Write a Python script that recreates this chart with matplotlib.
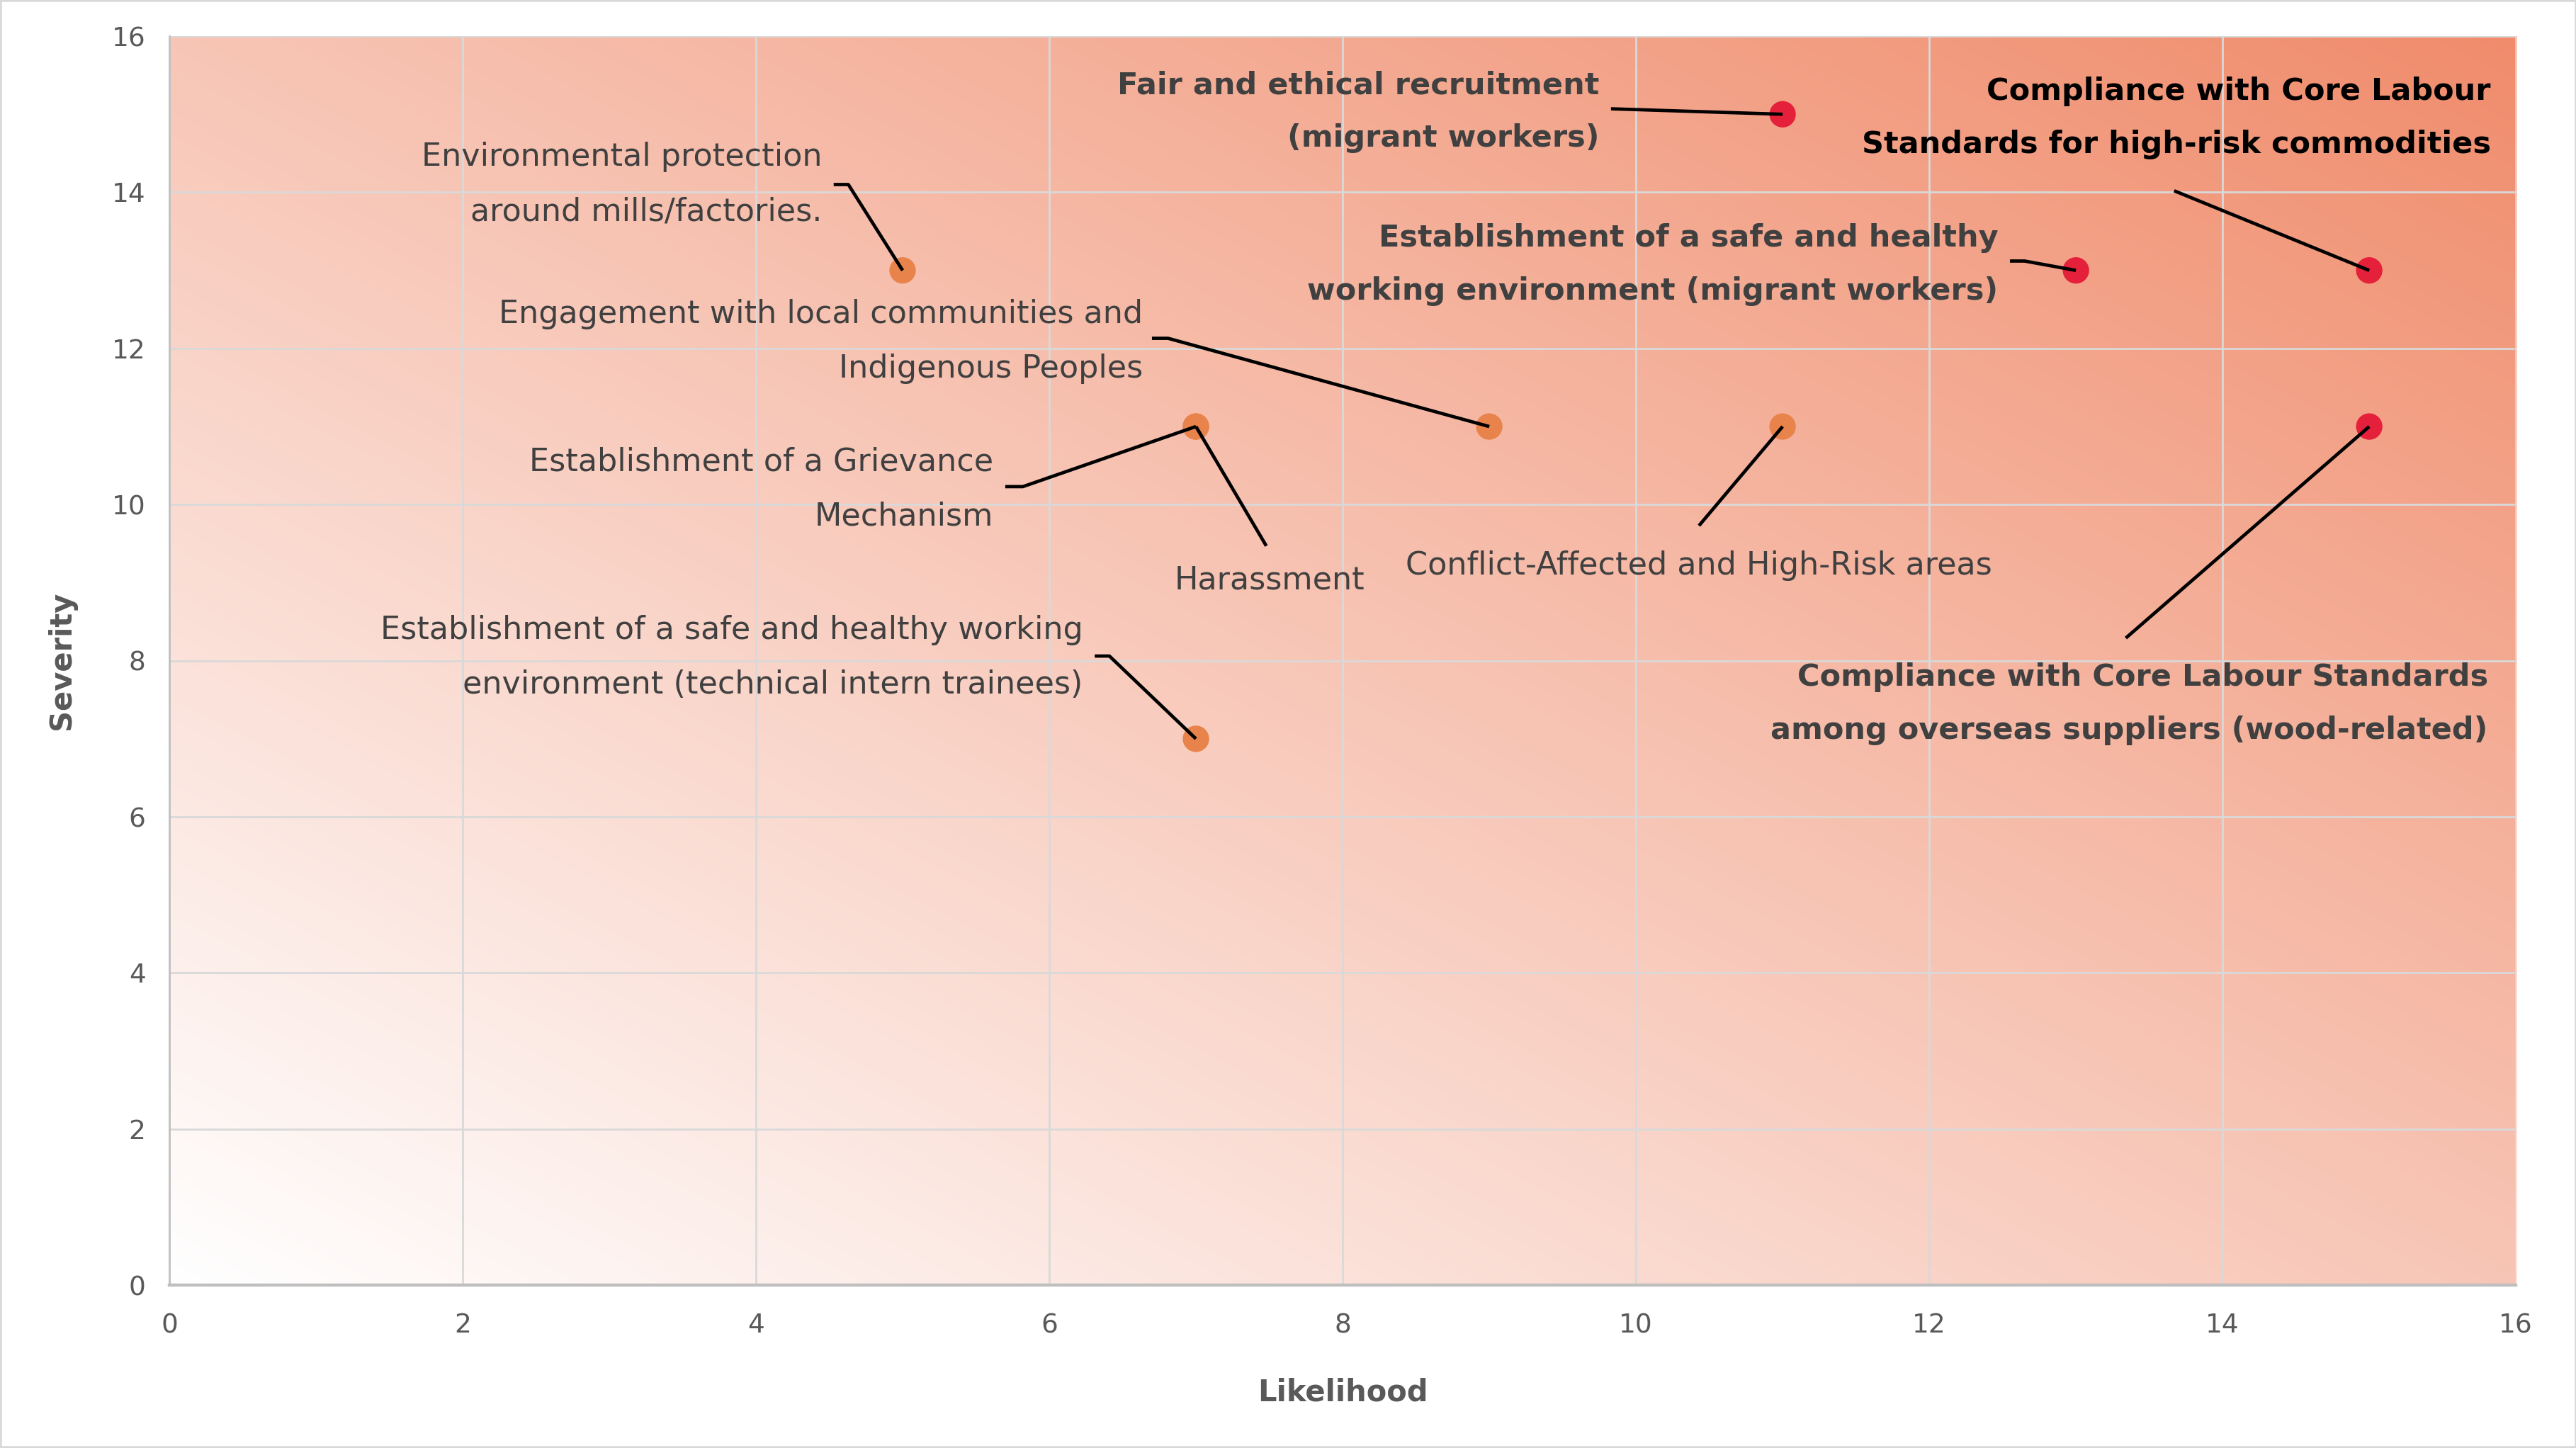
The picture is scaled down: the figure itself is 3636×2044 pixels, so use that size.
import numpy as np
import matplotlib
matplotlib.use("Agg")
import matplotlib.pyplot as plt
from matplotlib.patches import Rectangle

plt.rcParams['font.family'] = ['DejaVu Sans']

# ---- data ----
risk_labels = [
    "Environmental protection\naround mills/factories.",
    "Engagement with local communities and\nIndigenous Peoples",
    "Establishment of a Grievance\nMechanism",
    "Harassment",
    "Establishment of a safe and healthy working\nenvironment (technical intern trainees)",
    "Conflict-Affected and High-Risk areas",
    "Fair and ethical recruitment\n(migrant workers)",
    "Establishment of a safe and healthy\nworking environment (migrant workers)",
    "Compliance with Core Labour\nStandards for high-risk commodities",
    "Compliance with Core Labour Standards\namong overseas suppliers (wood-related)",
]
likelihood = [5, 9, 7, 7, 7, 11, 11, 13, 15, 15]
severity = [13, 11, 11, 11, 7, 11, 15, 13, 13, 11]
high_priority = [False, False, False, False, False, False, True, True, True, True]

x_ticks = [0, 2, 4, 6, 8, 10, 12, 14, 16]
y_ticks = [0, 2, 4, 6, 8, 10, 12, 14, 16]

# ---- label layout (annotation positions, data coords) ----
label_pos = [(4.45, 14.10), (6.64, 12.09), (5.62, 10.20), (7.50, 9.03), (6.23, 8.04),
             (10.43, 9.22), (9.75, 15.03), (12.47, 13.07), (15.83, 14.95), (15.81, 7.45)]
label_ha = ['right', 'right', 'right', 'center', 'right', 'center', 'right', 'right', 'right', 'right']
leader_start = [(4.53, 14.10), (6.70, 12.13), (5.70, 10.23), (7.48, 9.47), (6.31, 8.06),
                (10.43, 9.73), (9.83, 15.07), (12.55, 13.12), (13.67, 14.02), (13.34, 8.29)]
elbow_len = [0.10, 0.11, 0.12, 0.0, 0.10, 0.0, 0.0, 0.10, 0.0, 0.0]
label_bold = [False, False, False, False, False, False, True, True, True, True]
label_color = ['#404040'] * 8 + ['#000000', '#404040']

W, H, DPI = 3637, 2044, 200
fig = plt.figure(figsize=(W / DPI, H / DPI), dpi=DPI)
fig.patch.set_facecolor('white')
fig.add_artist(Rectangle((0, 0), 1, 1, transform=fig.transFigure, fill=False,
                         edgecolor='#D9D9D9', lw=2.0, clip_on=False))

ax = fig.add_axes([0.0657, 0.1124, 0.9107, 0.8626])

# gradient background
n = 400
u = np.linspace(0, 1, n)
U, V = np.meshgrid(u, u)
t = (U + V) / 2.0
c_end = np.array([240, 140, 108]) / 255.0
c_start = np.array([255, 255, 255]) / 255.0
img = c_start[None, None, :] * (1 - t[..., None]) + c_end[None, None, :] * t[..., None]
ax.imshow(img, extent=[0, 1, 0, 1], transform=ax.transAxes, origin='lower',
          aspect='auto', zorder=0, interpolation='bilinear')

ax.set_xlim(0, 16)
ax.set_ylim(0, 16)
ax.set_xticks(x_ticks)
ax.set_yticks(y_ticks)
ax.grid(True, color='#D9D9D9', lw=1.0)
ax.set_axisbelow(True)
ax.tick_params(length=0, labelsize=13.5, labelcolor='#595959')
ax.tick_params(axis='x', pad=14)
ax.tick_params(axis='y', pad=12)
for s in ['top', 'right']:
    ax.spines[s].set_visible(False)
ax.spines['left'].set_color('#BFBFBF')
ax.spines['left'].set_linewidth(1.0)
ax.spines['bottom'].set_color('#BFBFBF')
ax.spines['bottom'].set_linewidth(1.6)

ax.set_xlabel('Likelihood', fontsize=15, fontweight='bold', color='#595959', labelpad=20)
ax.set_ylabel('Severity', fontsize=15, fontweight='bold', color='#595959', labelpad=18)

colors = ['#E5203A' if hp else '#E8834C' for hp in high_priority]
ax.scatter(likelihood, severity, s=180, c=colors, zorder=3, linewidths=0)

for i, lab in enumerate(risk_labels):
    tx, ty = label_pos[i]
    ax.text(tx, ty, lab, ha=label_ha[i], va='center',
            fontsize=15.5 if label_bold[i] else 16,
            fontweight='bold' if label_bold[i] else 'normal',
            color=label_color[i], linespacing=2.0, zorder=5,
            multialignment='right' if label_ha[i] == 'right' else 'center')
    sx, sy = leader_start[i]
    px = [sx]
    py = [sy]
    if elbow_len[i] > 0:
        px.append(sx + elbow_len[i])
        py.append(sy)
    px.append(likelihood[i])
    py.append(severity[i])
    ax.plot(px, py, color='black', lw=1.7, zorder=4, solid_capstyle='butt')

fig.savefig('out.png', dpi=DPI)
